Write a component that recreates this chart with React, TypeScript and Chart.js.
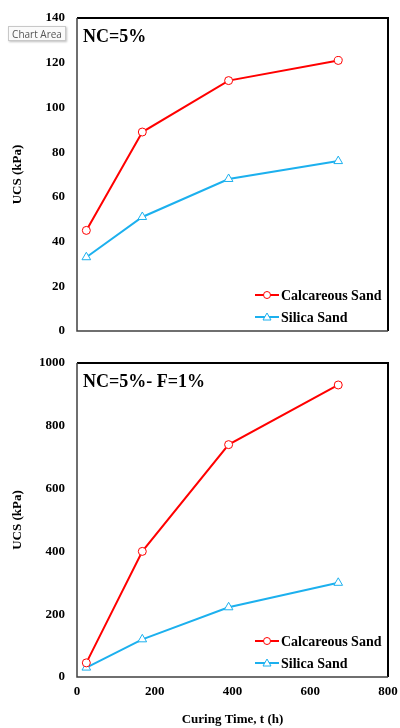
import React, { useEffect, useRef } from "react";
import { Chart, registerables } from "chart.js";

Chart.register(...registerables);

const curingTimes = [24, 168, 390, 672];
const calcareousTop = [45, 89, 112, 121];
const silicaTop = [33, 51, 68, 76];
const calcareousBottom = [45, 400, 740, 930];
const silicaBottom = [30, 120, 222, 300];
const seriesNames = ["Calcareous Sand", "Silica Sand"];
const panelTitles = ["NC=5%", "NC=5%- F=1%"];

const RED = "#FF0000";
const BLUE = "#1CB0EE";
const FONT = "'Liberation Serif', 'Times New Roman', serif";

const toPoints = (ys: number[]) => curingTimes.map((x, i) => ({ x, y: ys[i] }));

function makeConfig(
  calc: number[],
  sil: number[],
  yMax: number,
  yStep: number,
  title: string,
  bottom: boolean,
  legendY: number
): any {
  const framePlugin = {
    id: "frame",
    afterDraw(chart: any) {
      const { ctx, chartArea: a } = chart;
      ctx.save();
      ctx.strokeStyle = "#000";
      ctx.lineWidth = 2;
      ctx.beginPath();
      ctx.moveTo(a.left, a.top);
      ctx.lineTo(a.right, a.top);
      ctx.lineTo(a.right, a.bottom);
      ctx.stroke();
      ctx.strokeStyle = "#404040";
      ctx.lineWidth = 1.5;
      ctx.beginPath();
      ctx.moveTo(a.left, a.top);
      ctx.lineTo(a.left, a.bottom);
      ctx.lineTo(a.right, a.bottom);
      ctx.stroke();
      // title
      ctx.fillStyle = "#000";
      ctx.font = `bold 18px ${FONT}`;
      ctx.textBaseline = "alphabetic";
      ctx.textAlign = "left";
      ctx.fillText(title, a.left + 6, a.top + 24);
      // legend
      const items = [
        { name: seriesNames[0], color: RED, style: "circle" },
        { name: seriesNames[1], color: BLUE, style: "triangle" },
      ];
      items.forEach((it, i) => {
        const y = a.top + legendY + i * 22;
        const x0 = a.right - 133;
        ctx.strokeStyle = it.color;
        ctx.lineWidth = 2;
        ctx.beginPath();
        ctx.moveTo(x0, y);
        ctx.lineTo(x0 + 24, y);
        ctx.stroke();
        ctx.lineWidth = 1;
        const cx = x0 + 12;
        ctx.beginPath();
        if (it.style === "circle") {
          ctx.arc(cx, y, 3.5, 0, Math.PI * 2);
        } else {
          ctx.moveTo(cx, y - 4);
          ctx.lineTo(cx + 4, y + 3);
          ctx.lineTo(cx - 4, y + 3);
          ctx.closePath();
        }
        ctx.fillStyle = "#fff";
        ctx.fill();
        ctx.stroke();
        ctx.fillStyle = "#000";
        ctx.font = `bold 14px ${FONT}`;
        ctx.textBaseline = "middle";
        ctx.fillText(it.name, x0 + 26, y + 1);
      });
      ctx.restore();
    },
  };

  const xScale: any = {
    type: "linear",
    display: bottom,
    min: 0,
    max: 800,
    ticks: {
      display: bottom,
      stepSize: 200,
      padding: 7,
      color: "#000",
      font: { family: FONT, size: 13, weight: "bold" },
      callback: (v: any) => String(v),
    },
    grid: { display: false, drawTicks: false },
    border: { display: false },
    title: {
      display: bottom,
      text: "Curing Time, t (h)",
      color: "#000",
      font: { family: FONT, size: 13, weight: "bold" },
      padding: { top: 2, bottom: 1 },
    },
  };
  if (bottom) {
    xScale.afterFit = (s: any) => {
      s.height = 51;
      s.paddingLeft = 0;
      s.paddingRight = 0;
    };
  }

  return {
    type: "line",
    data: {
      datasets: [
        {
          label: seriesNames[0],
          data: toPoints(calc),
          borderColor: RED,
          backgroundColor: "#fff",
          borderWidth: 2,
          pointStyle: "circle",
          pointRadius: 4,
          pointBorderWidth: 1,
          pointBorderColor: RED,
          tension: 0,
        },
        {
          label: seriesNames[1],
          data: toPoints(sil),
          borderColor: BLUE,
          backgroundColor: "#fff",
          borderWidth: 2,
          pointStyle: "triangle",
          pointRadius: 5,
          pointBorderWidth: 1,
          pointBorderColor: BLUE,
          tension: 0,
        },
      ],
    },
    options: {
      animation: false,
      responsive: false,
      maintainAspectRatio: false,
      layout: { padding: { left: 0, right: 12, top: 18, bottom: bottom ? 0 : 14 } },
      plugins: { legend: { display: false }, tooltip: { enabled: false } },
      scales: {
        x: xScale,
        y: {
          min: 0,
          max: yMax,
          ticks: {
            stepSize: yStep,
            padding: 12,
            color: "#000",
            font: { family: FONT, size: 13, weight: "bold" },
            callback: (v: any) => String(v),
          },
          grid: { display: false, drawTicks: false },
          border: { display: false },
          title: {
            display: true,
            text: "UCS (kPa)",
            color: "#000",
            font: { family: FONT, size: 13, weight: "bold" },
            padding: { top: 10, bottom: 0 },
          },
          afterFit(s: any) {
            s.width = 77;
            s.paddingTop = 0;
            s.paddingBottom = 0;
          },
        },
      },
    },
    plugins: [framePlugin],
  };
}

export default function App() {
  const topRef = useRef<HTMLCanvasElement>(null);
  const botRef = useRef<HTMLCanvasElement>(null);

  useEffect(() => {
    const c1 = new Chart(
      topRef.current as HTMLCanvasElement,
      makeConfig(calcareousTop, silicaTop, 140, 20, panelTitles[0], false, 277)
    );
    const c2 = new Chart(
      botRef.current as HTMLCanvasElement,
      makeConfig(calcareousBottom, silicaBottom, 1000, 200, panelTitles[1], true, 278)
    );
    return () => {
      c1.destroy();
      c2.destroy();
    };
  }, []);

  return (
    <div style={{ position: "absolute", left: 0, top: 0, width: 400, height: 728, background: "#fff" }}>
      <canvas ref={topRef} width={400} height={345} style={{ position: "absolute", left: 0, top: 0, width: 400, height: 345 }} />
      <canvas ref={botRef} width={400} height={383} style={{ position: "absolute", left: 0, top: 345, width: 400, height: 383 }} />
      <div
        style={{
          position: "absolute",
          left: 8,
          top: 26,
          width: 58,
          height: 15,
          border: "1px solid #c8c8c8",
          background: "#fafafa",
          boxShadow: "1px 1px 2px rgba(0,0,0,0.25)",
          fontFamily: "'Open Sans', 'DejaVu Sans', sans-serif",
          fontSize: 10,
          lineHeight: "15px",
          color: "#555",
          textAlign: "center",
          boxSizing: "border-box",
        }}
      >
        Chart Area
      </div>
    </div>
  );
}
